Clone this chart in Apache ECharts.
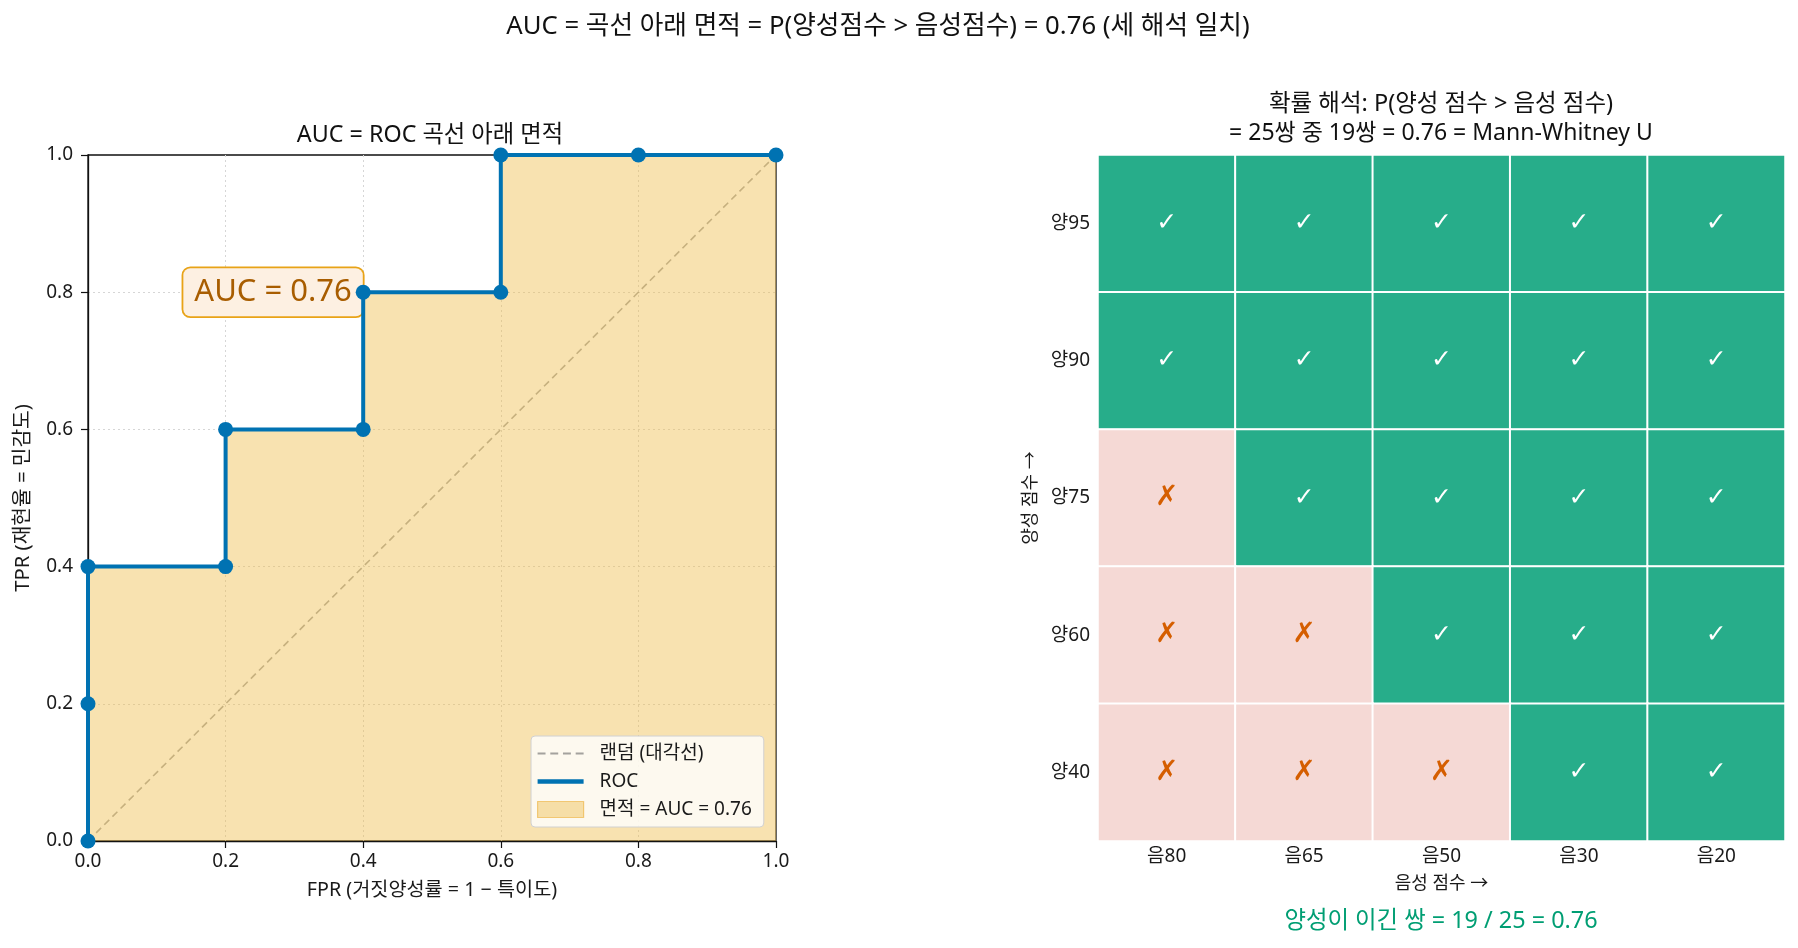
<!DOCTYPE html>
<html><head><meta charset="utf-8">
<script src="https://cdn.jsdelivr.net/npm/echarts@6/dist/echarts.min.js"></script>
<style>html,body{margin:0;padding:0;background:#fff}#c{width:1798px;height:948px}</style>
</head><body><div id="c"></div>
<script>
// ---- data ----
const fpr = [0, 0, 0, 0.2, 0.2, 0.4, 0.4, 0.6, 0.6, 0.8, 1.0];
const tpr = [0, 0.2, 0.4, 0.4, 0.6, 0.6, 0.8, 0.8, 1.0, 1.0, 1.0];
const diagX = [0, 1];
const diagY = [0, 1];
const posLabels = ['양95', '양90', '양75', '양60', '양40'];
const posScores = [95, 90, 75, 60, 40];
const negLabels = ['음80', '음65', '음50', '음30', '음20'];
const negScores = [80, 65, 50, 30, 20];
const aucValue = 0.76;
const aucLabelPos = [0.269, 0.8];
const winsText = '양성이 이긴 쌍 = 19 / 25 = 0.76';

// ---- build ----
const FONT = "'Noto Sans', 'Noto Sans CJK KR', sans-serif";
const rocData = fpr.map((x, i) => [x, tpr[i]]);
const diagData = diagX.map((x, i) => [x, diagY[i]]);
const heatData = [];
posScores.forEach((p, i) => negScores.forEach((n, j) => heatData.push([j, i, p > n ? 1 : 0])));
const fillColor = 'rgba(240,190,80,0.45)';
const diagColor = 'rgba(105,105,105,0.6)';

const chart = echarts.init(document.getElementById('c'));
chart.setOption({
  animation: false,
  textStyle: { fontFamily: FONT },
  graphic: [
    { type: 'text', x: 878, y: 27, style: { text: 'AUC = 곡선 아래 면적 = P(양성점수 > 음성점수) = 0.76 (세 해석 일치)', align: 'center', verticalAlign: 'middle', font: '25.7px ' + FONT, fill: '#111' } },
    { type: 'text', x: 430, y: 135, style: { text: 'AUC = ROC 곡선 아래 면적', align: 'center', verticalAlign: 'middle', font: '23.3px ' + FONT, fill: '#111' } },
    { type: 'text', x: 1441, y: 104, style: { text: '확률 해석: P(양성 점수 > 음성 점수)', align: 'center', verticalAlign: 'middle', font: '23.5px ' + FONT, fill: '#111' } },
    { type: 'text', x: 1441, y: 133, style: { text: '= 25쌍 중 19쌍 = 0.76 = Mann-Whitney U', align: 'center', verticalAlign: 'middle', font: '23px ' + FONT, fill: '#111' } },
    { type: 'text', x: 1441, y: 921, style: { text: winsText, align: 'center', verticalAlign: 'middle', font: '23.4px ' + FONT, fill: '#009e73' } }
  ],
  grid: [
    { left: 88, top: 155, width: 688, height: 686, show: true, borderColor: '#111', borderWidth: 1.3, backgroundColor: 'transparent' },
    { left: 1098, top: 155, width: 687, height: 686 }
  ],
  legend: {
    orient: 'vertical', left: 531, top: 736,
    padding: [8, 12, 8, 6], itemGap: 9, itemWidth: 46, itemHeight: 16,
    backgroundColor: 'rgba(255,255,255,0.8)', borderColor: '#d0d0d0', borderWidth: 1, borderRadius: 4,
    textStyle: { fontSize: 19, color: '#1a1a1a', fontFamily: FONT, padding: [0, 0, 0, 11] },
    data: [
      { name: '랜덤 (대각선)', icon: 'path://M0,0h7.5v2h-7.5z M12,0h7.5v2h-7.5z M24,0h7.5v2h-7.5z M36,0h7.5v2h-7.5z' },
      { name: 'ROC', icon: 'path://M0,0H46V4.5H0Z' },
      { name: '면적 = AUC = 0.76', icon: 'rect', itemStyle: { color: fillColor, borderColor: 'rgba(235,170,40,0.55)', borderWidth: 1.2 } }
    ]
  },
  xAxis: [{
    type: 'value', gridIndex: 0, min: 0, max: 1, interval: 0.2,
    axisLine: { show: true, lineStyle: { color: '#111', width: 1.3 } },
    axisTick: { show: true, length: 7, lineStyle: { color: '#111', width: 1.2 } },
    axisLabel: { formatter: v => v.toFixed(1), fontSize: 19, color: '#1a1a1a', fontFamily: FONT, margin: 11 },
    splitLine: { show: true, showMinLine: false, showMaxLine: false, lineStyle: { color: '#d6d6d6', type: [2, 3], width: 1 } },
    name: 'FPR (거짓양성률 = 1 − 특이도)', nameLocation: 'middle', nameGap: 40,
    nameTextStyle: { fontSize: 19.7, color: '#1a1a1a', fontFamily: FONT }
  }, {
    type: 'category', gridIndex: 1, data: negLabels,
    axisLine: { show: false }, axisTick: { show: false }, splitLine: { show: false },
    axisLabel: { fontSize: 19, color: '#1a1a1a', fontFamily: FONT, margin: 6 },
    name: '음성 점수 →', nameLocation: 'middle', nameGap: 34,
    nameTextStyle: { fontSize: 18, color: '#1a1a1a', fontFamily: FONT }
  }],
  yAxis: [{
    type: 'value', gridIndex: 0, min: 0, max: 1, interval: 0.2,
    axisLine: { show: true, lineStyle: { color: '#111', width: 1.3 } },
    axisTick: { show: true, length: 7, lineStyle: { color: '#111', width: 1.2 } },
    axisLabel: { formatter: v => v.toFixed(1), fontSize: 19, color: '#1a1a1a', fontFamily: FONT, margin: 15 },
    splitLine: { show: true, showMinLine: false, showMaxLine: false, lineStyle: { color: '#d6d6d6', type: [2, 3], width: 1 } },
    name: 'TPR (재현율 = 민감도)', nameLocation: 'middle', nameGap: 55,
    nameTextStyle: { fontSize: 20.3, color: '#1a1a1a', fontFamily: FONT }
  }, {
    type: 'category', gridIndex: 1, data: posLabels, inverse: true,
    axisLine: { show: false }, axisTick: { show: false }, splitLine: { show: false },
    axisLabel: { fontSize: 19, color: '#1a1a1a', fontFamily: FONT, margin: 8 },
    name: '양성 점수 →', nameLocation: 'middle', nameGap: 58,
    nameTextStyle: { fontSize: 18, color: '#1a1a1a', fontFamily: FONT }
  }],
  visualMap: {
    type: 'piecewise', show: false, seriesIndex: 3, dimension: 2,
    pieces: [{ value: 1, color: '#27ad8a' }, { value: 0, color: '#f5d9d5' }]
  },
  series: [{
    name: '랜덤 (대각선)', type: 'line', xAxisIndex: 0, yAxisIndex: 0, data: diagData,
    symbol: 'none', z: 1, color: diagColor,
    lineStyle: { type: [7, 4.5], width: 1.6, color: diagColor }
  }, {
    name: '면적 = AUC = 0.76', type: 'line', xAxisIndex: 0, yAxisIndex: 0, data: rocData,
    symbol: 'none', z: 2, color: fillColor,
    lineStyle: { width: 0 }, areaStyle: { color: fillColor, opacity: 1 },
    markPoint: {
      z: 2, symbol: 'rect', symbolSize: 1, itemStyle: { color: 'rgba(0,0,0,0)' }, silent: true,
      data: [{ coord: aucLabelPos, value: aucValue }],
      label: {
        show: true, position: 'inside', formatter: 'AUC = ' + aucValue.toFixed(2),
        fontSize: 31, color: '#a85d00', fontFamily: FONT, lineHeight: 34,
        backgroundColor: '#fdf0e2', borderColor: '#e8a317', borderWidth: 1.8, borderRadius: 7,
        padding: [7, 11, 7, 11]
      }
    }
  }, {
    name: 'ROC', type: 'line', xAxisIndex: 0, yAxisIndex: 0, data: rocData,
    symbol: 'circle', symbolSize: 15, z: 3, color: '#0072b2',
    lineStyle: { color: '#0072b2', width: 4 }, itemStyle: { color: '#0072b2' }
  }, {
    type: 'heatmap', xAxisIndex: 1, yAxisIndex: 1, data: heatData,
    itemStyle: { borderColor: '#ffffff', borderWidth: 2 },
    label: {
      show: true,
      formatter: p => p.value[2] === 1 ? '{w|✓}' : '{l|✗}',
      rich: {
        w: { color: '#ffffff', fontSize: 25, fontFamily: 'DejaVu Sans' },
        l: { color: '#d55e00', fontSize: 28, fontWeight: 'bold', fontFamily: 'DejaVu Sans' }
      }
    },
    emphasis: { disabled: true }
  }]
});
</script></body></html>
